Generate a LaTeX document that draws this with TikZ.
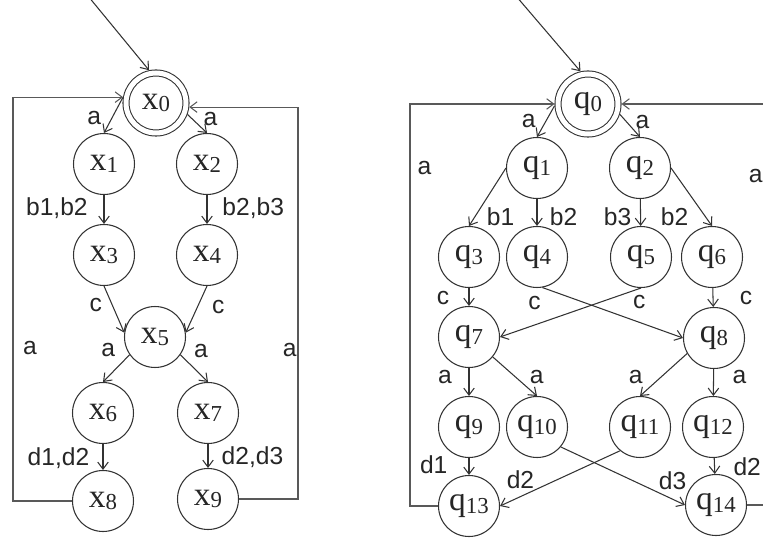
\documentclass[tikz,border=0pt]{standalone}
\usepackage{fontspec}
\setmainfont{Liberation Serif}
\setsansfont{Liberation Sans}
\usetikzlibrary{arrows.meta, positioning}

% state name with a lowered index
\newcommand{\sname}[2]{#1\raisebox{-1.5pt}{\fontsize{13}{13}\selectfont #2}}

\begin{document}
\begin{tikzpicture}[x=0.02cm, y=-0.02cm,
    state/.style={draw=black!80, text=black!85, circle, line width=0.6pt,
        minimum size=1.22cm, inner sep=0pt, font=\fontsize{19}{21}\selectfont},
    initial/.style={state, double, double distance=0.1cm, outer sep=2pt, minimum size=1.2cm},
    lab/.style={font=\sffamily\fontsize{14}{16}\selectfont, inner sep=1pt, text=black!85},
    trans/.style={->, draw=black!80, line width=0.6pt},
    back/.style={trans, draw=black!65},
    >={Straight Barb[length=4pt, width=6pt]}]

    \useasboundingbox (0,0) rectangle (763,540);
    \clip (0,0) rectangle (763,540);

    % left automaton
    \node[initial] (x0) at (156,103) {\sname{x}{0}};
    \node[state] (x1) at (104,164) {\sname{x}{1}};
    \node[state] (x2) at (207,164) {\sname{x}{2}};
    \node[state] (x3) at (104,255) {\sname{x}{3}};
    \node[state] (x4) at (207,255) {\sname{x}{4}};
    \node[state] (x5) at (155,337) {\sname{x}{5}};
    \node[state] (x6) at (103,413) {\sname{x}{6}};
    \node[state] (x7) at (208,413) {\sname{x}{7}};
    \node[state] (x8) at (103,501) {\sname{x}{8}};
    \node[state] (x9) at (208,499) {\sname{x}{9}};

    \coordinate (in1) at (88,-4);
    \draw[trans] (in1) -- (x0.102);

    \draw[trans] (x0.170) -- node[lab, left=5pt, pos=.57] {a} (x1.north);
    \draw[trans] (x0.-20) -- node[lab, right=5pt, pos=.26] {a} (x2.north);
    \draw[trans] (x1) -- node[lab, left=8pt, pos=.44] {b1,b2} (x3);
    \draw[trans] (x2) -- node[lab, right=7.5pt, pos=.44] {b2,b3} (x4);
    \draw[trans] (x3.south) -- node[lab, left=4.5pt, pos=.4] {c} (x5.172);
    \draw[trans] (x4.south) -- node[lab, right=7pt, pos=.45] {c} (x5.8);
    \draw[trans] (x5.215) -- node[lab, left=7pt, pos=0, yshift=3pt] {a} (x6.north);
    \draw[trans] (x5.-35) -- node[lab, right=6.5pt, pos=0, yshift=2pt] {a} (x7.north);
    \draw[trans] (x6) -- node[lab, left=6.5pt, pos=.55] {d1,d2} (x8);
    \draw[trans] (x7) -- node[lab, right=6.5pt, pos=.55] {d2,d3} (x9);

    \draw[back] (x8) -- ++(-90,0) |- node[lab, right=4.5pt, pos=.19] {a} (x0.170);
    \draw[back] (x9) -- ++(90,0) |- node[lab, left=0pt, pos=.19, inner sep=.5pt] {a} (x0.-7);

    % right automaton
    \node[initial] (q0) at (588,104) {\sname{q}{0}};
    \node[state] (q1) at (537,168) {\sname{q}{1}};
    \node[state] (q2) at (640,168) {\sname{q}{2}};
    \node[state] (q3) at (469,257) {\sname{q}{3}};
    \node[state] (q4) at (537,257) {\sname{q}{4}};
    \node[state] (q5) at (641,257) {\sname{q}{5}};
    \node[state] (q6) at (712,257) {\sname{q}{6}};
    \node[state] (q7) at (469,337) {\sname{q}{7}};
    \node[state] (q8) at (714,338) {\sname{q}{8}};
    \node[state] (q9) at (469,427) {\sname{q}{9}};
    \node[state] (q10) at (537,427) {\sname{q}{10}};
    \node[state] (q11) at (640,427) {\sname{q}{11}};
    \node[state] (q12) at (713,427) {\sname{q}{12}};
    \node[state] (q13) at (469,506) {\sname{q}{13}};
    \node[state] (q14) at (716,505) {\sname{q}{14}};

    \coordinate (in2) at (516,-4);
    \draw[trans] (in2) -- (q0.103);

    \draw[trans] (q0.183) -- node[lab, left=4.5pt, pos=.5] {a} (q1.north);
    \draw[trans] (q0.-18) -- node[lab, right=4pt, pos=.32] {a} (q2.north);
    \draw[trans] (q1.west) -- node[lab, right=5.5pt, pos=.84] {b1} (q3.north);
    \draw[trans] (q1) -- node[lab, right=6pt, pos=.67] {b2} (q4);
    \draw[trans] (q2) -- node[lab, left=4pt, pos=.67] {b3} (q5);
    \draw[trans] (q2.east) -- node[lab, left=8.5pt, pos=.84] {b2} (q6.north);
    \draw[trans] (q3) -- node[lab, left=10pt, pos=.55] {c} (q7);
    \draw[trans] (q4.-80) -- node[lab, below=3.5pt, pos=0, xshift=-4.5pt] {c} (q8.west);
    \draw[trans] (q5.south) -- node[lab, below=3pt, pos=0, xshift=-1pt] {c} (q7.east);
    \draw[trans] (q6) -- node[lab, right=14pt, pos=.55] {c} (q8);
    \draw[trans] (q7) -- node[lab, left=8.5pt, pos=.32] {a} (q9);
    \draw[trans] (q7.-40) -- node[lab, right=7pt, pos=.51] {a} (q10.north);
    \draw[trans] (q8.210) -- node[lab, left=9pt, pos=.56] {a} (q11.north);
    \draw[trans] (q8) -- node[lab, right=9.5pt, pos=.3] {a} (q12);
    \draw[trans] (q9) -- node[lab, left=11pt, pos=.4] {d1} (q13);
    \draw[trans] (q11.230) -- node[lab, above=3pt, pos=.83] {d2} (q13.east);
    \draw[trans] (q10.-40) -- node[lab, above=4pt, pos=.9] {d3} (q14.west);
    \draw[trans] (q12) -- node[lab, right=9.5pt, pos=.56] {d2} (q14);

    \draw[back] (q13) -- ++(-59,0) |- node[lab, right=3pt, pos=.42] {a} (q0.west);
    \draw[back] (q14) -- ++(48,0) |- node[lab, left=0pt, pos=.41, inner sep=.5pt] {a} (q0.east);
\end{tikzpicture}
\end{document}
